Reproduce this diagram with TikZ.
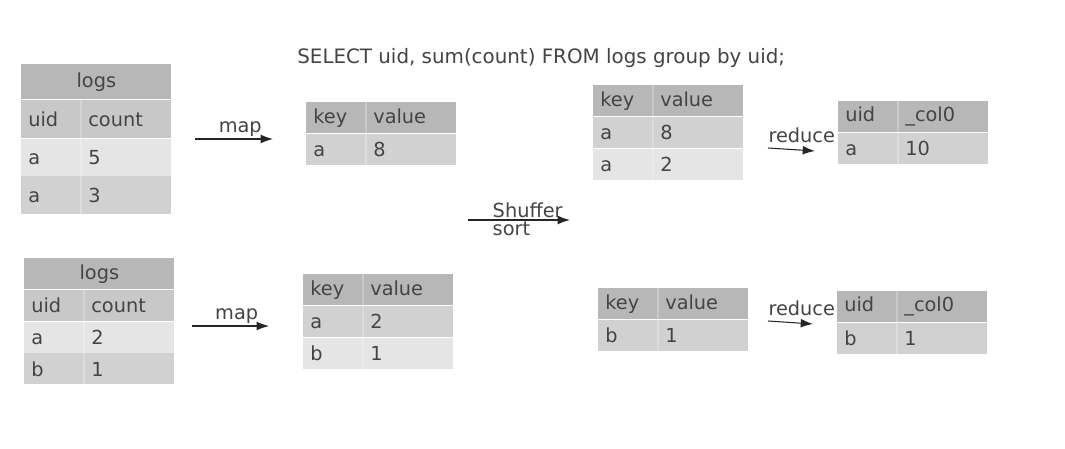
\documentclass[tikz,border=0pt]{standalone}
\usepackage{fontspec}
\setmainfont{DejaVu Sans}
\usetikzlibrary{positioning,arrows.meta}
\definecolor{hdrgray}{HTML}{B7B7B7}
\definecolor{subgray}{HTML}{C8C8C8}
\definecolor{midgray}{HTML}{D1D1D1}
\definecolor{litgray}{HTML}{E5E5E5}
\definecolor{ink}{HTML}{444444}
\newcommand{\cols}[2]{\makebox[1.2cm][l]{#1}#2}

\begin{document}
\begin{tikzpicture}[x=0.02cm,y=-0.02cm,
          every node/.style={text=ink,font=\fontsize{11}{13}\selectfont},
          row/.style={fill=#1,anchor=north west,inner xsep=0.14cm,inner ysep=0pt,
            text width=2.72cm,minimum height=0.62cm,align=left},
          hrow/.style={row=#1,align=center},
          split/.style={path picture={\draw[white,opacity=.25,line width=1pt]
            ([xshift=1.2cm]path picture bounding box.north west) --
            ([xshift=1.2cm]path picture bounding box.south west);}},
          arr/.style={draw=black!85,line width=0.6pt,-{Latex[length=7pt,width=5pt]}},
          lbl/.style={inner sep=1pt}
            ]
    \useasboundingbox[fill=white] (0,0) rectangle (1065,449);

    \node[anchor=west,inner xsep=0pt,font=\fontsize{11.3}{13}\selectfont] (query) at (297,58)
      {SELECT uid, sum(count) FROM logs group by uid;};

    % first split
    \node[hrow=hdrgray,minimum height=0.7cm] (lg1t) at (21,64) {logs};
    \node[row=subgray,split,minimum height=0.76cm,below=0pt of lg1t] (lg1h) {\cols{uid}{count}};
    \node[row=litgray,split,minimum height=0.74cm,below=0pt of lg1h] (lg1a) {\cols{a}{5}};
    \node[row=midgray,split,minimum height=0.76cm,below=0pt of lg1a] (lg1b) {\cols{a}{3}};

    \node[row=hdrgray,split] (kv1h) at (306,102) {\cols{key}{value}};
    \node[row=midgray,split,below=0pt of kv1h] (kv1a) {\cols{a}{8}};

    % second split
    \node[hrow=hdrgray] (lg2t) at (24,258) {logs};
    \node[row=subgray,split,below=0pt of lg2t] (lg2h) {\cols{uid}{count}};
    \node[row=litgray,split,below=0pt of lg2h] (lg2a) {\cols{a}{2}};
    \node[row=midgray,split,below=0pt of lg2a] (lg2b) {\cols{b}{1}};

    \node[row=hdrgray,split] (kv2h) at (303,274) {\cols{key}{value}};
    \node[row=midgray,split,below=0pt of kv2h] (kv2a) {\cols{a}{2}};
    \node[row=litgray,split,below=0pt of kv2a] (kv2b) {\cols{b}{1}};

    % after shuffle
    \node[row=hdrgray,split] (sh1h) at (593,85) {\cols{key}{value}};
    \node[row=midgray,split,below=0pt of sh1h] (sh1a) {\cols{a}{8}};
    \node[row=litgray,split,below=0pt of sh1a] (sh1b) {\cols{a}{2}};

    \node[row=hdrgray,split] (sh2h) at (598,288) {\cols{key}{value}};
    \node[row=midgray,split,below=0pt of sh2h] (sh2a) {\cols{b}{1}};

    % results
    \node[row=hdrgray,split] (rd1h) at (838,101) {\cols{uid}{\_col0}};
    \node[row=midgray,split,below=0pt of rd1h] (rd1a) {\cols{a}{10}};

    \node[row=hdrgray,split] (rd2h) at (837,291) {\cols{uid}{\_col0}};
    \node[row=midgray,split,below=0pt of rd2h] (rd2a) {\cols{b}{1}};

    \coordinate (m1a) at (195,139);
    \coordinate (m1b) at (273,139);
    \coordinate (m2a) at (192,326);
    \coordinate (m2b) at (269,326);
    \coordinate (sfa) at (468,220);
    \coordinate (sfb) at (570,220);
    \coordinate (r1a) at (768,148);
    \coordinate (r1b) at (815,151);
    \coordinate (r2a) at (768,321);
    \coordinate (r2b) at (813,324);

    \draw[arr] (m1a) -- (m1b) node[lbl,pos=.58,above] {map};
    \draw[arr] (m2a) -- (m2b) node[lbl,pos=.58,above] {map};
    \draw[arr] (sfa) -- (sfb) node[lbl,pos=.22,anchor=south west] {Shuffer}
                              node[lbl,pos=.22,anchor=north west] {sort};
    \draw[arr] (r1a) -- (r1b) node[lbl,pos=0,anchor=south west,inner xsep=0pt,inner ysep=2.5pt] {reduce};
    \draw[arr] (r2a) -- (r2b) node[lbl,pos=0,anchor=south west,inner xsep=0pt,inner ysep=2.5pt] {reduce};
\end{tikzpicture}
\end{document}
